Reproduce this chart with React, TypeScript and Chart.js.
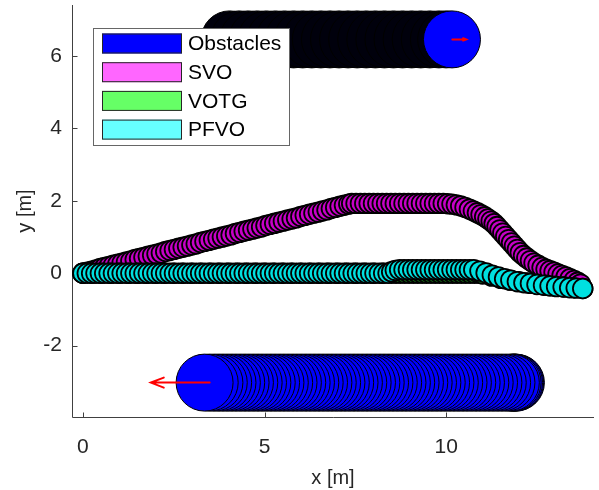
import { useEffect, useRef } from 'react';
import { Chart, registerables } from 'chart.js';

Chart.register(...registerables);

// ---------- data ----------
const seriesNames = ['Obstacles', 'SVO', 'VOTG', 'PFVO'];
const legendColors = ['#0000ff', '#ff66ff', '#66ff66', '#66ffff'];
const xTickValues = [0, 5, 10];
const yTickValues = [-2, 0, 2, 4, 6];
const xLimits = [-0.3, 14.07];
const yLimits = [-3.97, 7.41];

// moving obstacle above (moves right), last entry = current position
const obsTopY = 6.46;
const obsTopX = [4.04, 4.3, 4.55, 4.8, 5.05, 5.3, 5.55, 5.8, 6.05, 6.3, 6.55, 6.8, 7.05, 7.3, 7.55, 7.8, 8.05, 8.3, 8.55, 8.8, 9.05, 9.3, 9.55, 9.8, 10.0, 10.16];

// moving obstacle below (moves left), last entry = current position
const obsBottomY = -3.02;
const obsBottomX = [11.92, 11.9, 11.87, 11.83, 11.78, 11.66, 11.54, 11.42, 11.3, 11.18, 11.06, 10.94, 10.82, 10.7, 10.58, 10.46, 10.34, 10.22, 10.1, 9.98, 9.86, 9.74, 9.62, 9.5, 9.38, 9.26, 9.14, 9.02, 8.9, 8.78, 8.66, 8.54, 8.42, 8.3, 8.18, 8.06, 7.94, 7.82, 7.7, 7.58, 7.46, 7.34, 7.22, 7.1, 6.98, 6.86, 6.74, 6.62, 6.5, 6.38, 6.26, 6.14, 6.02, 5.9, 5.78, 5.66, 5.54, 5.42, 5.3, 5.18, 5.06, 4.94, 4.82, 4.7, 4.58, 4.46, 4.34, 4.22, 4.1, 3.98, 3.86, 3.74, 3.62, 3.49, 3.35];

// velocity arrows of the obstacles [x, y]
const arrowFrom = [[10.17, 6.46], [3.49, -3.02]];
const arrowTo = [[10.55, 6.46], [1.87, -3.02]];

const svoPath = [
  [0, 0], [0.12, 0.03], [0.24, 0.06], [0.36, 0.09], [0.48, 0.13], [0.6, 0.16], [0.72, 0.19], [0.84, 0.22], [0.96, 0.25], [1.08, 0.28],
  [1.2, 0.31], [1.32, 0.34], [1.44, 0.38], [1.56, 0.41], [1.68, 0.44], [1.8, 0.47], [1.92, 0.5], [2.04, 0.53], [2.16, 0.56], [2.28, 0.6],
  [2.4, 0.63], [2.52, 0.66], [2.64, 0.69], [2.76, 0.72], [2.88, 0.75], [3.0, 0.78], [3.12, 0.81], [3.24, 0.85], [3.36, 0.88], [3.48, 0.91],
  [3.6, 0.94], [3.72, 0.97], [3.84, 1.0], [3.96, 1.03], [4.08, 1.06], [4.2, 1.1], [4.32, 1.13], [4.44, 1.16], [4.56, 1.19], [4.68, 1.22],
  [4.8, 1.25], [4.92, 1.28], [5.04, 1.32], [5.16, 1.35], [5.28, 1.38], [5.4, 1.41], [5.52, 1.44], [5.64, 1.47], [5.76, 1.5], [5.88, 1.53],
  [6.0, 1.57], [6.12, 1.6], [6.24, 1.63], [6.36, 1.66], [6.48, 1.69], [6.6, 1.72], [6.72, 1.75], [6.84, 1.79], [6.96, 1.82], [7.08, 1.85],
  [7.2, 1.88], [7.32, 1.91], [7.4, 1.93], [7.52, 1.93], [7.64, 1.93], [7.76, 1.93], [7.88, 1.93], [8.0, 1.93], [8.12, 1.93], [8.24, 1.93],
  [8.36, 1.93], [8.48, 1.93], [8.6, 1.93], [8.72, 1.93], [8.84, 1.93], [8.96, 1.93], [9.08, 1.93], [9.2, 1.93], [9.32, 1.93], [9.44, 1.93],
  [9.56, 1.93], [9.68, 1.93], [9.8, 1.93], [9.92, 1.93], [10.04, 1.92], [10.16, 1.91], [10.28, 1.89], [10.4, 1.86], [10.52, 1.82], [10.64, 1.77],
  [10.75, 1.72], [10.86, 1.67], [10.96, 1.62], [11.06, 1.56], [11.15, 1.5], [11.24, 1.44], [11.32, 1.37], [11.4, 1.29], [11.48, 1.2], [11.56, 1.11],
  [11.64, 1.02], [11.72, 0.93], [11.8, 0.84], [11.88, 0.75], [11.96, 0.66], [12.04, 0.57], [12.13, 0.49], [12.22, 0.42], [12.32, 0.35], [12.42, 0.28],
  [12.53, 0.22], [12.64, 0.16], [12.75, 0.11], [12.86, 0.07], [12.97, 0.03], [13.08, -0.02], [13.19, -0.06], [13.3, -0.1], [13.41, -0.15], [13.52, -0.2],
  [13.62, -0.25], [13.7, -0.3],
];

const votgPath = [
  [0, 0], [0.25, 0], [0.5, 0], [0.75, 0], [1.0, 0], [1.25, 0], [1.5, 0], [1.75, 0], [2.0, 0], [2.25, 0], [2.5, 0], [2.75, 0],
  [3.0, 0], [3.25, 0], [3.5, 0], [3.75, 0], [4.0, 0], [4.25, 0], [4.5, 0], [4.75, 0], [5.0, 0], [5.25, 0], [5.5, 0], [5.75, 0],
  [6.0, 0], [6.25, 0], [6.5, 0], [6.75, 0], [7.0, 0], [7.25, 0], [7.5, 0], [7.75, 0], [8.0, 0], [8.25, 0], [8.5, 0], [8.62, 0],
  [8.74, 0], [8.86, 0], [8.98, 0], [9.1, 0], [9.22, 0], [9.34, 0], [9.46, 0], [9.58, 0], [9.7, 0], [9.82, 0], [9.94, 0], [10.06, 0],
  [10.18, 0], [10.3, 0], [10.42, 0], [10.54, 0], [10.66, 0], [10.78, 0], [10.9, 0], [11.0, -0.02], [11.25, -0.08], [11.5, -0.14],
  [11.75, -0.19], [12.0, -0.23], [12.25, -0.27], [12.5, -0.3], [12.75, -0.33], [13.0, -0.36], [13.25, -0.38], [13.5, -0.4], [13.76, -0.42],
];

const pfvoPath = [
  [0, 0], [0.12, 0], [0.24, 0], [0.36, 0], [0.48, 0], [0.6, 0], [0.72, 0], [0.84, 0], [0.96, 0], [1.08, 0],
  [1.2, 0], [1.32, 0], [1.44, 0], [1.56, 0], [1.68, 0], [1.8, 0], [1.92, 0], [2.04, 0], [2.16, 0], [2.28, 0],
  [2.4, 0], [2.52, 0], [2.64, 0], [2.76, 0], [2.88, 0], [3.0, 0], [3.12, 0], [3.24, 0], [3.36, 0], [3.48, 0],
  [3.6, 0], [3.72, 0], [3.84, 0], [3.96, 0], [4.08, 0], [4.2, 0], [4.32, 0], [4.44, 0], [4.56, 0], [4.68, 0],
  [4.8, 0], [4.92, 0], [5.04, 0], [5.16, 0], [5.28, 0], [5.4, 0], [5.52, 0], [5.64, 0], [5.76, 0], [5.88, 0],
  [6.0, 0], [6.12, 0], [6.24, 0], [6.36, 0], [6.48, 0], [6.6, 0], [6.72, 0], [6.84, 0], [6.96, 0], [7.08, 0],
  [7.2, 0], [7.32, 0], [7.44, 0], [7.56, 0], [7.68, 0], [7.8, 0], [7.92, 0], [8.04, 0], [8.16, 0], [8.28, 0],
  [8.4, 0], [8.5, 0.04], [8.6, 0.08], [8.72, 0.1], [8.84, 0.1], [8.96, 0.1], [9.08, 0.1], [9.2, 0.1], [9.32, 0.1], [9.44, 0.1],
  [9.56, 0.1], [9.68, 0.1], [9.8, 0.1], [9.92, 0.1], [10.04, 0.1], [10.16, 0.1], [10.28, 0.1], [10.4, 0.1], [10.52, 0.1], [10.64, 0.1],
  [10.76, 0.1], [10.93, 0.06], [11.1, 0.01], [11.27, -0.05], [11.44, -0.1], [11.61, -0.15], [11.78, -0.19], [11.96, -0.23], [12.14, -0.26], [12.32, -0.28],
  [12.5, -0.31], [12.68, -0.33], [12.86, -0.35], [13.04, -0.37], [13.22, -0.38], [13.4, -0.4], [13.58, -0.41], [13.76, -0.42],
];

// ---------- helpers ----------
const FONT = "'Liberation Sans', Arial, Helvetica, sans-serif";
const toPts = (arr: number[][]) => arr.map(([x, y]) => ({ x, y }));

const noPad = (s: any) => {
  s.paddingTop = 0;
  s.paddingBottom = 0;
  s.paddingLeft = 0;
  s.paddingRight = 0;
};

const axesPlugin = {
  id: 'matlabAxes',
  beforeDatasetsDraw(chart: any) {
    const { ctx, chartArea: a, scales } = chart;
    ctx.save();
    ctx.strokeStyle = '#404040';
    ctx.lineWidth = 1;
    const L = Math.round(a.left) + 0.5;
    const B = Math.round(a.bottom) + 0.5;
    ctx.beginPath();
    ctx.moveTo(L, a.top);
    ctx.lineTo(L, B);
    ctx.lineTo(a.right, B);
    const tl = 5;
    scales.x.ticks.forEach((t: any) => {
      const px = Math.round(scales.x.getPixelForValue(t.value)) + 0.5;
      ctx.moveTo(px, B);
      ctx.lineTo(px, B - tl);
    });
    scales.y.ticks.forEach((t: any) => {
      const py = Math.round(scales.y.getPixelForValue(t.value)) + 0.5;
      ctx.moveTo(L, py);
      ctx.lineTo(L + tl, py);
    });
    ctx.stroke();
    ctx.restore();
  },
};

const arrowPlugin = {
  id: 'obstacleArrows',
  afterDatasetsDraw(chart: any) {
    const { ctx, scales } = chart;
    ctx.save();
    ctx.strokeStyle = '#ff0000';
    ctx.lineWidth = 2;
    ctx.lineCap = 'round';
    arrowFrom.forEach((f, i) => {
      const t = arrowTo[i];
      const x0 = scales.x.getPixelForValue(f[0]);
      const y0 = scales.y.getPixelForValue(f[1]);
      const x1 = scales.x.getPixelForValue(t[0]);
      const y1 = scales.y.getPixelForValue(t[1]);
      const dx = x1 - x0, dy = y1 - y0;
      const len = Math.hypot(dx, dy);
      const ux = dx / len, uy = dy / len;
      const hl = len * 0.22, hw = len * 0.085;
      ctx.beginPath();
      ctx.moveTo(x0, y0);
      ctx.lineTo(x1, y1);
      ctx.moveTo(x1 - ux * hl - uy * hw, y1 - uy * hl + ux * hw);
      ctx.lineTo(x1, y1);
      ctx.lineTo(x1 - ux * hl + uy * hw, y1 - uy * hl - ux * hw);
      ctx.stroke();
    });
    ctx.restore();
  },
};

const legendPlugin = {
  id: 'matlabLegend',
  afterDraw(chart: any) {
    const { ctx, chartArea: a } = chart;
    const left = a.left + 21, top = a.top + 23, w = 197, h = 118;
    ctx.save();
    ctx.fillStyle = '#ffffff';
    ctx.fillRect(left, top, w, h);
    ctx.strokeStyle = '#666666';
    ctx.lineWidth = 1;
    ctx.strokeRect(left + 0.5, top + 0.5, w - 1, h - 1);
    ctx.font = `21px ${FONT}`;
    ctx.textBaseline = 'middle';
    ctx.textAlign = 'left';
    seriesNames.forEach((name, i) => {
      const ry = top + 5.5 + i * 28.7;
      ctx.fillStyle = legendColors[i];
      ctx.fillRect(left + 9, ry, 80, 20);
      ctx.strokeStyle = '#262626';
      ctx.strokeRect(left + 9.5, ry + 0.5, 79, 19);
      ctx.fillStyle = '#000000';
      ctx.fillText(name, left + 95, ry + 11);
    });
    ctx.restore();
  },
};

export default function App() {
  const ref = useRef<HTMLCanvasElement | null>(null);
  useEffect(() => {
    if (!ref.current) return;
    const topLast = obsTopX.length - 1;
    const circle = { pointStyle: 'circle', showLine: false, clip: false as any };
    const chart = new Chart(ref.current, {
      type: 'scatter',
      data: {
        datasets: [
          {
            ...circle, label: seriesNames[3], data: toPts(pfvoPath), order: 0,
            pointRadius: 9.8, pointBorderWidth: 1.8, pointBackgroundColor: '#00e0e0', pointBorderColor: '#000000',
          },
          {
            ...circle, label: seriesNames[2], data: toPts(votgPath), order: 1,
            pointRadius: 9.8, pointBorderWidth: 1.8, pointBackgroundColor: '#1a8a1a', pointBorderColor: '#000000',
          },
          {
            ...circle, label: seriesNames[1], data: toPts(svoPath), order: 2,
            pointRadius: 9.8, pointBorderWidth: 1.8, pointBackgroundColor: '#c800c8', pointBorderColor: '#000000',
          },
          {
            ...circle, label: seriesNames[0], data: obsTopX.map((x) => ({ x, y: obsTopY })), order: 3,
            pointRadius: 28.5, pointBorderWidth: 1,
            pointBackgroundColor: (c: any) => (c.dataIndex === topLast ? '#0000ff' : '#00000c'),
            pointBorderColor: '#000000',
          },
          {
            ...circle, label: seriesNames[0], data: obsBottomX.map((x) => ({ x, y: obsBottomY })), order: 4,
            pointRadius: 28.5, pointBorderWidth: 1, pointBackgroundColor: '#0000ff', pointBorderColor: '#000000',
          },
        ] as any,
      },
      options: {
        animation: false,
        responsive: false,
        events: [],
        layout: { autoPadding: false, padding: { top: 5, right: 5, left: 0, bottom: 0 } },
        plugins: { legend: { display: false }, tooltip: { enabled: false } },
        scales: {
          x: {
            type: 'linear',
            min: xLimits[0],
            max: xLimits[1],
            afterBuildTicks: (s: any) => { s.ticks = xTickValues.map((v) => ({ value: v })); },
            afterFit: (s: any) => { s.height = 73; noPad(s); },
            ticks: { font: { size: 21, family: FONT }, color: '#262626', padding: 18, maxRotation: 0, autoSkip: false },
            grid: { display: false, drawTicks: false },
            border: { display: false },
            title: { display: true, text: 'x [m]', font: { size: 20, family: FONT }, color: '#262626', padding: { top: 0, bottom: 0 } },
          },
          y: {
            type: 'linear',
            min: yLimits[0],
            max: yLimits[1],
            afterBuildTicks: (s: any) => { s.ticks = yTickValues.map((v) => ({ value: v })); },
            afterFit: (s: any) => { s.width = 72; noPad(s); },
            ticks: { font: { size: 21, family: FONT }, color: '#262626', padding: 10, autoSkip: false },
            grid: { display: false, drawTicks: false },
            border: { display: false },
            title: { display: true, text: 'y [m]', font: { size: 20, family: FONT }, color: '#262626', padding: { top: 13, bottom: 0 } },
          },
        },
      } as any,
      plugins: [axesPlugin, arrowPlugin, legendPlugin],
    });
    return () => chart.destroy();
  }, []);
  return (
    <div style={{ position: 'fixed', left: 0, top: 0, width: 599, height: 490, background: '#ffffff' }}>
      <canvas ref={ref} width={599} height={490} style={{ display: 'block' }} />
    </div>
  );
}
